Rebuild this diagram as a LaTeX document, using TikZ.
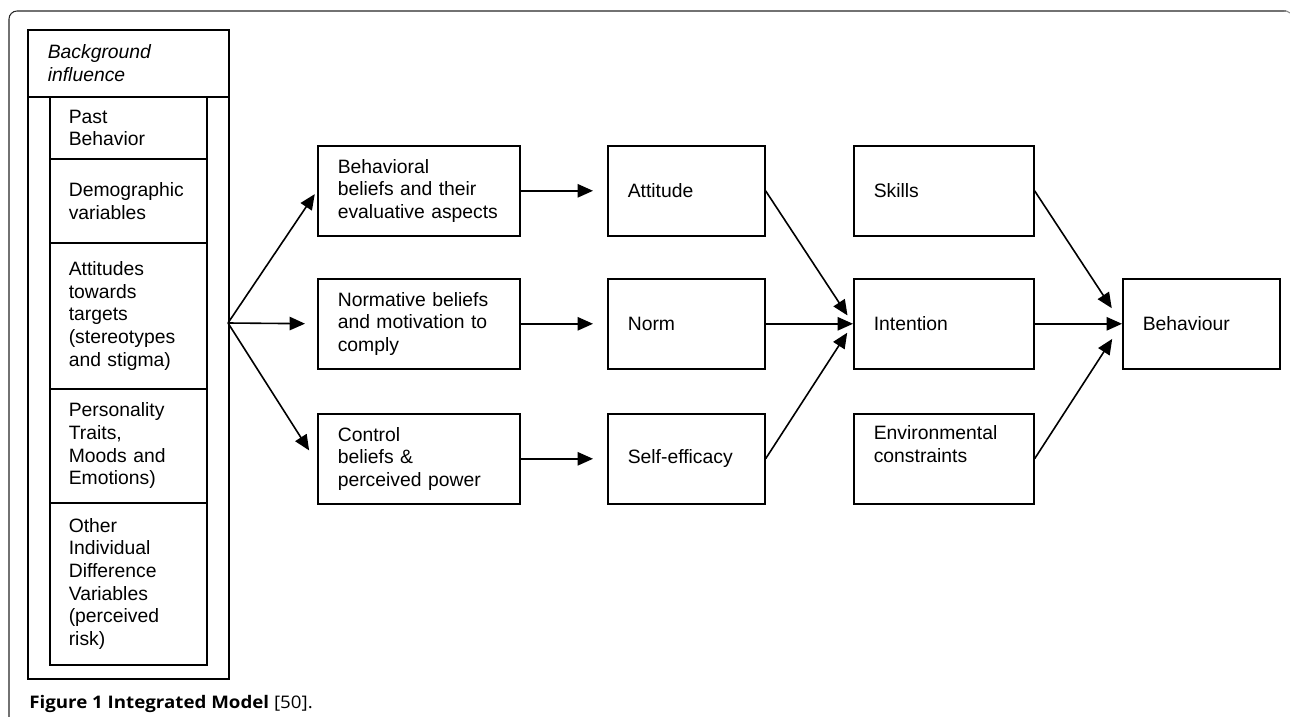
\documentclass[tikz,border=0pt]{standalone}
\usepackage{fontspec}
\setmainfont{Liberation Sans}
\newfontfamily\capfont[FakeStretch=1.08]{Open Sans}
\usetikzlibrary{arrows.meta,calc}
\begin{document}
\begin{tikzpicture}[x=0.75pt,y=-0.75pt,
  txt/.style={font=\fontsize{14.5}{17}\selectfont},
  box/.style={txt, draw, line width=1.2pt, anchor=north west, inner ysep=0pt,
              inner xsep=15pt, align=left, minimum height=67.5pt},
  cell/.style={txt, draw, line width=1.2pt, anchor=north west, inner ysep=0pt,
               inner xsep=14.25pt, text width=89.25pt, align=left},
  arr/.style={line width=1.2pt, -{Triangle[length=11.5pt,width=10pt]}},
  frame/.style={line width=0.8pt, color=black!85},
]
\useasboundingbox (0,0) rectangle (1290,717);

% outer frame of the figure
\draw[frame, rounded corners=6pt] (9,717) -- (9,11) -- (1286,11);
\draw[frame, color=black!45] (1284,11) .. controls (1287,11) .. (1290,13);

% background influence column
\node[draw, line width=1.2pt, anchor=north west, inner sep=0pt,
      minimum width=150.75pt, minimum height=486.75pt] (bg) at (27,29) {};
\node[txt, draw, line width=1.2pt, anchor=north west, inner ysep=0pt, inner xsep=15pt,
      text width=120.75pt, align=left, minimum height=50.25pt, font=\fontsize{14.5}{17}\selectfont\itshape]
      (bgh) at (27,29) {Background\\influence};
\node[cell, minimum height=46.5pt]  (past) at (49,96)  {Past\\Behavior};
\node[cell, minimum height=63pt]    (demo) at (49,158) {Demographic\\variables};
\node[cell, minimum height=109.5pt] (att)  at (49,242) {Attitudes\\towards\\targets\\(stereotypes\\and stigma)};
\node[cell, minimum height=85.5pt]  (pers) at (49,388) {Personality\\Traits,\\Moods and\\Emotions)};
\node[cell, minimum height=121.5pt] (oth)  at (49,502) {Other\\Individual\\Difference\\Variables\\(perceived\\risk)};
\coordinate (br) at (228,323);

% column 1
\node[box, text width=121.5pt] (beh) at (317,145) {Behavioral\\beliefs and their\\evaluative aspects};
\node[box, text width=121.5pt] (nb)  at (317,278) {Normative beliefs\\and motivation to\\comply};
\node[box, text width=121.5pt] (ctl) at (317,413) {Control\\beliefs \&\\perceived power};

% column 2
\node[box, text width=87.75pt] (atd) at (607,145) {Attitude};
\node[box, text width=87.75pt] (nrm) at (607,278) {Norm};
\node[box, text width=87.75pt] (se)  at (607,413) {Self-efficacy};

% column 3
\node[box, text width=105pt] (sk)  at (853,145) {Skills};
\node[box, text width=105pt] (int) at (853,278) {Intention};
\node[box, text width=105pt] (env) at (853,413) {Environmental\\constraints\\\strut};

% behaviour
\node[box, text width=87.75pt] (bhv) at (1122,278) {Behaviour};

% arrows
\draw[arr, shorten >=3pt]  (br) -- (beh.west);
\draw[arr, shorten >=9pt]  (br) -- (nb.west);
\draw[arr, shorten >=11pt] (br) -- ($(ctl.west)+(0,4)$);

\draw[arr, shorten >=10.5pt] (beh.east) -- (atd.west);
\draw[arr, shorten >=10.5pt] (nb.east)  -- (nrm.west);
\draw[arr, shorten >=10.5pt] (ctl.east) -- (se.west);

\draw[arr, shorten >=7.5pt] (atd.east) -- (int.west);
\draw[arr] (nrm.east) -- (int.west);
\draw[arr, shorten >=8pt] (se.east) -- (int.west);

\draw[arr, shorten >=14pt] (sk.east) -- (bhv.west);
\draw[arr] (int.east) -- (bhv.west);
\draw[arr, shorten >=13.5pt] (env.east) -- (bhv.west);

% caption
\node[anchor=base west, inner sep=0pt, font=\capfont\fontsize{13}{15}\selectfont]
  (cap) at (29,708) {\textbf{Figure 1 Integrated Model} [50].};
\end{tikzpicture}
\end{document}
